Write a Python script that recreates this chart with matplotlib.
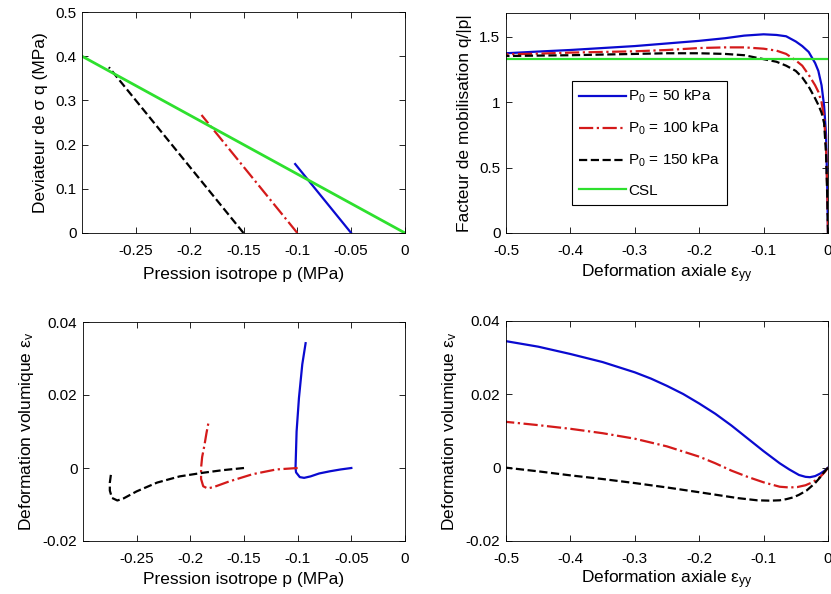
import numpy as np
import matplotlib
matplotlib.use("Agg")
import matplotlib.pyplot as plt
from matplotlib.ticker import FormatStrFormatter

plt.rcParams["font.family"] = ["Liberation Sans", "DejaVu Sans"]
plt.rcParams["mathtext.default"] = "regular"
plt.rcParams["axes.unicode_minus"] = False

# --- data --------------------------------------------------------------------
labels = ["P$_0$ = 50 kPa", "P$_0$ = 100 kPa", "P$_0$ = 150 kPa", "CSL"]
colors = ["#0a0ad0", "#d41a1a", "#000000", "#2ee02e"]
styles = ["-", "-.", "--", "-"]

# q - p stress paths (MPa)
p_q_50 = [-0.050, -0.102];  q_50 = [0.0, 0.156]
p_q_100 = [-0.100, -0.189]; q_100 = [0.0, 0.267]
p_q_150 = [-0.150, -0.275]; q_150 = [0.0, 0.375]
p_csl = [0.0, -0.30];       q_csl = [0.0, 0.40]
M_csl = 1.333

# mobilisation q/|p| vs axial strain
eps_m = [0, -0.001, -0.003, -0.006, -0.01, -0.015, -0.02, -0.03, -0.04, -0.05, -0.065,
         -0.08, -0.1, -0.13, -0.16, -0.2, -0.25, -0.3, -0.35, -0.4, -0.45, -0.5]
mob_50 = [0, 0.30, 0.75, 0.97, 1.13, 1.24, 1.30, 1.385, 1.43, 1.465, 1.505,
          1.515, 1.52, 1.51, 1.49, 1.47, 1.45, 1.43, 1.415, 1.40, 1.388, 1.375]
mob_100 = [0, 0.30, 0.65, 0.88, 1.00, 1.08, 1.13, 1.21, 1.28, 1.32, 1.37,
           1.395, 1.41, 1.42, 1.42, 1.415, 1.40, 1.39, 1.385, 1.38, 1.372, 1.367]
mob_150 = [0, 0.25, 0.60, 0.84, 0.92, 0.98, 1.03, 1.12, 1.19, 1.24, 1.28,
           1.31, 1.33, 1.36, 1.37, 1.375, 1.375, 1.37, 1.365, 1.36, 1.357, 1.354]

# volumetric strain vs p
p_v_50 = [-0.050, -0.060, -0.070, -0.080, -0.088, -0.094, -0.098, -0.1015, -0.102,
          -0.101, -0.0988, -0.0957, -0.0926]
ev_p_50 = [0.0, -0.0004, -0.0009, -0.0015, -0.0023, -0.0027, -0.0025, -0.0012, 0.0,
           0.010, 0.0192, 0.0284, 0.0342]
p_v_100 = [-0.100, -0.120, -0.142, -0.164, -0.178, -0.184, -0.188, -0.190, -0.190,
           -0.189, -0.187, -0.185, -0.183]
ev_p_100 = [0.0, -0.0004, -0.0017, -0.0037, -0.0052, -0.0056, -0.0050, -0.0030, 0.0,
            0.0030, 0.0060, 0.0095, 0.0126]
p_v_150 = [-0.150, -0.170, -0.188, -0.210, -0.231, -0.250, -0.262, -0.268, -0.273,
           -0.275, -0.275, -0.274]
ev_p_150 = [0.0, -0.0006, -0.0013, -0.0023, -0.0040, -0.0064, -0.0083, -0.0089, -0.0082,
            -0.0062, -0.0040, -0.0018]

# volumetric strain vs axial strain
eps_v50 = [0, -0.005, -0.012, -0.02, -0.028, -0.035, -0.045, -0.06, -0.075, -0.1,
           -0.125, -0.15, -0.175, -0.2, -0.225, -0.25, -0.275, -0.3, -0.35, -0.4, -0.45, -0.5]
ev_50 = [0, -0.0008, -0.0016, -0.0023, -0.0026, -0.0025, -0.002, -0.0005, 0.0012, 0.0045,
         0.008, 0.0115, 0.0147, 0.0175, 0.0201, 0.0223, 0.0243, 0.026, 0.0288, 0.031,
         0.033, 0.0345]
eps_v100 = [0, -0.005, -0.012, -0.023, -0.035, -0.048, -0.06, -0.075, -0.1, -0.125,
            -0.15, -0.175, -0.2, -0.25, -0.3, -0.35, -0.4, -0.45, -0.5]
ev_100 = [0, -0.0012, -0.0025, -0.0039, -0.0048, -0.0053, -0.0054, -0.0052, -0.0040, -0.0025,
          -0.0008, 0.0012, 0.0030, 0.0058, 0.0079, 0.0094, 0.0106, 0.0116, 0.0125]
eps_v150 = [0, -0.006, -0.012, -0.02, -0.033, -0.045, -0.054, -0.065, -0.075, -0.09,
            -0.11, -0.14, -0.17, -0.2, -0.25, -0.3, -0.35, -0.4, -0.45, -0.5]
ev_150 = [0, -0.0012, -0.0026, -0.0042, -0.0062, -0.0074, -0.0081, -0.0086, -0.0089, -0.009,
          -0.0089, -0.0083, -0.0075, -0.0067, -0.0054, -0.0042, -0.0031, -0.0021, -0.001, 0.0]

p_ticks = [-0.25, -0.2, -0.15, -0.1, -0.05, 0]
eps_ticks = [-0.5, -0.4, -0.3, -0.2, -0.1, 0]
q_ticks = [0, 0.1, 0.2, 0.3, 0.4, 0.5]
mob_ticks = [0, 0.5, 1, 1.5]
ev_ticks = [-0.02, 0, 0.02, 0.04]

# --- figure ------------------------------------------------------------------
W, H = 831, 594
fig = plt.figure(figsize=(W / 100, H / 100), dpi=100)
TICK_FS, LAB_FS = 11, 12.5

def rect(x0, y0, x1, y1):
    return [x0 / W, 1 - y1 / H, (x1 - x0) / W, (y1 - y0) / H]

def style(ax, xt, yt, xlim, ylim):
    ax.set_xlim(*xlim); ax.set_ylim(*ylim)
    ax.set_xticks(xt); ax.set_yticks(yt)
    ax.xaxis.set_major_formatter(FormatStrFormatter("%g"))
    ax.yaxis.set_major_formatter(FormatStrFormatter("%g"))
    ax.tick_params(direction="in", top=True, right=True, length=4, width=0.6,
                   labelsize=TICK_FS)
    ax.tick_params(axis="x", pad=8)
    ax.tick_params(axis="y", pad=4)
    for s in ax.spines.values():
        s.set_linewidth(0.6)

lw = 1.6
ax1 = fig.add_axes(rect(82, 12, 405, 233))
for p, q, c, ls in zip([p_q_50, p_q_100, p_q_150], [q_50, q_100, q_150], colors, styles):
    ax1.plot(p, q, color=c, ls=ls, lw=lw)
ax1.plot(p_csl, q_csl, color=colors[3], lw=lw + 0.4)
style(ax1, p_ticks, q_ticks, (-0.3, 0), (0, 0.5))
ax1.set_xlabel("Pression isotrope p (MPa)", fontsize=LAB_FS, labelpad=6.5)
ax1.set_ylabel("Deviateur de σ q (MPa)", fontsize=LAB_FS, labelpad=5)

ax2 = fig.add_axes(rect(506, 13, 828, 233))
for m, c, ls, lab in zip([mob_50, mob_100, mob_150], colors, styles, labels):
    ax2.plot(eps_m, m, color=c, ls=ls, lw=lw, label=lab)
ax2.plot([-0.5, 0], [M_csl, M_csl], color=colors[3], lw=lw, label=labels[3])
style(ax2, eps_ticks, mob_ticks, (-0.5, 0), (0, 1.683))
ax2.set_xlabel("Deformation axiale ε$_{yy}$", fontsize=LAB_FS, labelpad=3)
ax2.set_ylabel("Facteur de mobilisation q/|p|", fontsize=LAB_FS, labelpad=5)
leg = ax2.legend(loc="upper left", bbox_to_anchor=(0.205, 0.69), fontsize=TICK_FS,
                 fancybox=False, edgecolor="black", framealpha=1, handlelength=3.1,
                 handletextpad=0.1, labelspacing=0.95, borderpad=0.45, borderaxespad=0)
leg.get_frame().set_linewidth(0.8)

ax3 = fig.add_axes(rect(83, 322, 405, 541))
for p, e, c, ls in zip([p_v_50, p_v_100, p_v_150], [ev_p_50, ev_p_100, ev_p_150], colors, styles):
    ax3.plot(p, e, color=c, ls=ls, lw=lw)
style(ax3, p_ticks, ev_ticks, (-0.3, 0), (-0.02, 0.04))
ax3.set_xlabel("Pression isotrope p (MPa)", fontsize=LAB_FS, labelpad=4.5)
ax3.set_ylabel("Deformation volumique ε$_v$", fontsize=LAB_FS, labelpad=5)

ax4 = fig.add_axes(rect(506, 321, 828, 541))
for x, e, c, ls in zip([eps_v50, eps_v100, eps_v150], [ev_50, ev_100, ev_150], colors, styles):
    ax4.plot(x, e, color=c, ls=ls, lw=lw)
style(ax4, eps_ticks, ev_ticks, (-0.5, 0), (-0.02, 0.04))
ax4.set_xlabel("Deformation axiale ε$_{yy}$", fontsize=LAB_FS, labelpad=2)
ax4.set_ylabel("Deformation volumique ε$_v$", fontsize=LAB_FS, labelpad=5)

fig.savefig("out.png", dpi=100)
